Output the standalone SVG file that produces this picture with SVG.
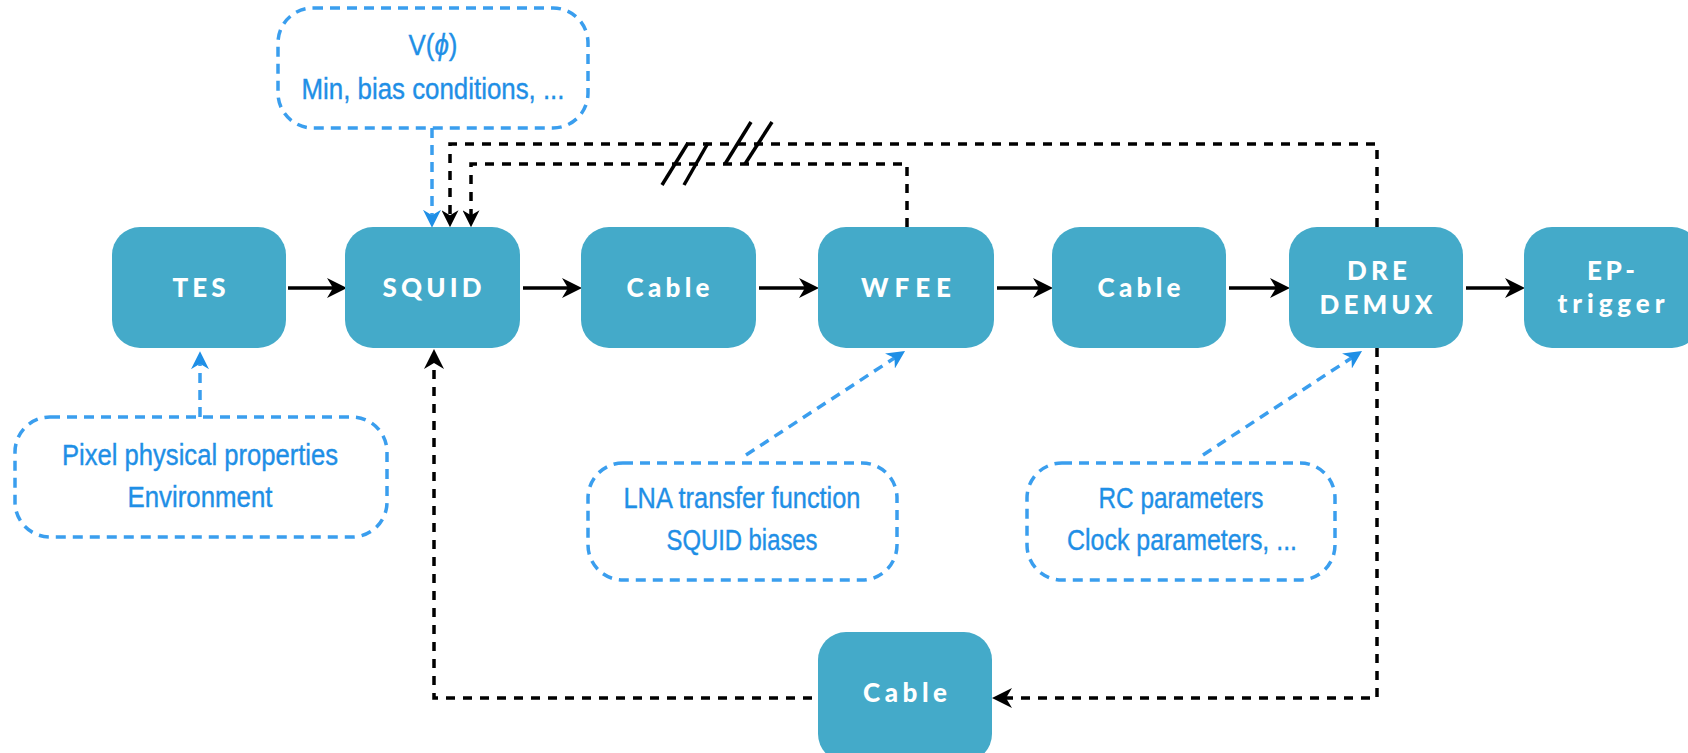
<svg xmlns="http://www.w3.org/2000/svg" width="1688" height="753" viewBox="0 0 1688 753">
  <style>
    .blk { fill: #44aac9; }
    .lbl { fill: #ffffff; font-family: Lato, "Liberation Sans", sans-serif; font-weight: 900; font-size: 26px; text-anchor: middle; }
    .note { fill: none; stroke: #3a9eee; stroke-width: 3.5; stroke-dasharray: 10 7; }
    .ntxt { fill: #1f8fe6; font-family: "Liberation Sans", "Noto Sans", sans-serif; font-size: 29px; text-anchor: middle; stroke: #1f8fe6; stroke-width: 0.4; }
    .flow { fill: none; stroke: #000; stroke-width: 3.5; }
    .fb { fill: none; stroke: #000; stroke-width: 3.5; stroke-dasharray: 9 8; }
    .hint { fill: none; stroke: #3a9eee; stroke-width: 3.5; stroke-dasharray: 10 7; }
    .cut { stroke: #000; stroke-width: 3.5; }
  </style>
  <defs>
    <marker id="ah" viewBox="0 0 20 20" markerWidth="20" markerHeight="20" refX="8" refY="10" orient="auto" markerUnits="userSpaceOnUse">
      <path d="M0,0 L20,10 L0,20 L6,10 Z" fill="#000"/>
    </marker>
    <marker id="ahd" viewBox="0 0 20 20" markerWidth="17" markerHeight="17" refX="8" refY="10" orient="auto" markerUnits="userSpaceOnUse">
      <path d="M0,0 L20,10 L0,20 L6,10 Z" fill="#000"/>
    </marker>
    <marker id="ahb" viewBox="0 0 20 20" markerWidth="18" markerHeight="18" refX="8" refY="10" orient="auto" markerUnits="userSpaceOnUse">
      <path d="M0,0 L20,10 L0,20 L6,10 Z" fill="#1f8fe6"/>
    </marker>
  </defs>

  <rect width="1688" height="753" fill="#ffffff"/>

  <!-- connectors -->
  <g id="connectors">
    <!-- signal chain -->
    <path class="flow" d="M288,288 H335" marker-end="url(#ah)"/>
    <path class="flow" d="M523,288 H570" marker-end="url(#ah)"/>
    <path class="flow" d="M759,288 H807" marker-end="url(#ah)"/>
    <path class="flow" d="M997,288 H1041" marker-end="url(#ah)"/>
    <path class="flow" d="M1229,288 H1278" marker-end="url(#ah)"/>
    <path class="flow" d="M1466,288 H1513" marker-end="url(#ah)"/>

    <!-- feedback loops -->
    <path class="fb" d="M1377,227 V144 H450 V217" marker-end="url(#ahd)"/>
    <path class="fb" d="M907,227 V164 H471 V217" marker-end="url(#ahd)"/>
    <path class="fb" d="M1377,348 V698 H1004" marker-end="url(#ah)"/>
    <path class="fb" d="M812,698 H434 V361" marker-end="url(#ah)"/>

    <!-- break marks -->
    <line class="cut" x1="662" y1="185" x2="688" y2="143"/>
    <line class="cut" x1="684" y1="185" x2="708" y2="143"/>
    <line class="cut" x1="725" y1="164" x2="751" y2="122"/>
    <line class="cut" x1="745" y1="164" x2="772" y2="122"/>

    <!-- parameter inputs -->
    <path class="hint" d="M432,128 V217" marker-end="url(#ahb)"/>
    <path class="hint" d="M200,417 V362" marker-end="url(#ahb)"/>
    <path class="hint" d="M746,455 L896,357" marker-end="url(#ahb)"/>
    <path class="hint" d="M1203,455 L1353,357" marker-end="url(#ahb)"/>
  </g>

  <!-- processing blocks -->
  <g id="tes">
    <rect class="blk" x="112" y="227" width="174" height="121" rx="28"/>
    <text class="lbl" x="199" y="297" textLength="53" lengthAdjust="spacing">TES</text>
  </g>
  <g id="squid">
    <rect class="blk" x="345" y="227" width="175" height="121" rx="28"/>
    <text class="lbl" x="432" y="297" textLength="99" lengthAdjust="spacing">SQUID</text>
  </g>
  <g id="cable1">
    <rect class="blk" x="581" y="227" width="175" height="121" rx="28"/>
    <text class="lbl" x="668" y="297" textLength="83" lengthAdjust="spacing">Cable</text>
  </g>
  <g id="wfee">
    <rect class="blk" x="818" y="227" width="176" height="121" rx="28"/>
    <text class="lbl" x="906" y="297" textLength="90" lengthAdjust="spacing">WFEE</text>
  </g>
  <g id="cable2">
    <rect class="blk" x="1052" y="227" width="174" height="121" rx="28"/>
    <text class="lbl" x="1139" y="297" textLength="83" lengthAdjust="spacing">Cable</text>
  </g>
  <g id="dre">
    <rect class="blk" x="1289" y="227" width="174" height="121" rx="28"/>
    <text class="lbl" x="1377" y="280" textLength="60" lengthAdjust="spacing">DRE</text>
    <text class="lbl" x="1376" y="314" textLength="113" lengthAdjust="spacing">DEMUX</text>
  </g>
  <g id="ep-trigger">
    <rect class="blk" x="1524" y="227" width="176" height="121" rx="28"/>
    <text class="lbl" x="1611" y="280" textLength="48" lengthAdjust="spacing">EP-</text>
    <text class="lbl" x="1611" y="313" textLength="107" lengthAdjust="spacing">trigger</text>
  </g>
  <g id="cable-return">
    <rect class="blk" x="818" y="632" width="174" height="130" rx="28"/>
    <text class="lbl" x="905" y="702" textLength="84" lengthAdjust="spacing">Cable</text>
  </g>

  <!-- parameter notes -->
  <g id="note-squid">
    <rect class="note" x="278" y="8" width="310" height="120" rx="35"/>
    <text class="ntxt" x="433" y="55" textLength="49" lengthAdjust="spacingAndGlyphs">V(<tspan font-style="italic">ϕ</tspan>)</text>
    <text class="ntxt" x="433" y="99" textLength="263" lengthAdjust="spacingAndGlyphs">Min, bias conditions, ...</text>
  </g>
  <g id="note-pixel">
    <rect class="note" x="15" y="417" width="372" height="120" rx="35"/>
    <text class="ntxt" x="200" y="465" textLength="276" lengthAdjust="spacingAndGlyphs">Pixel physical properties</text>
    <text class="ntxt" x="200" y="507" textLength="145" lengthAdjust="spacingAndGlyphs">Environment</text>
  </g>
  <g id="note-lna">
    <rect class="note" x="588" y="463" width="309" height="117" rx="35"/>
    <text class="ntxt" x="742" y="508" textLength="237" lengthAdjust="spacingAndGlyphs">LNA transfer function</text>
    <text class="ntxt" x="742" y="550" textLength="151" lengthAdjust="spacingAndGlyphs">SQUID biases</text>
  </g>
  <g id="note-rc">
    <rect class="note" x="1027" y="463" width="308" height="117" rx="35"/>
    <text class="ntxt" x="1181" y="508" textLength="165" lengthAdjust="spacingAndGlyphs">RC parameters</text>
    <text class="ntxt" x="1182" y="550" textLength="230" lengthAdjust="spacingAndGlyphs">Clock parameters, ...</text>
  </g>
</svg>
